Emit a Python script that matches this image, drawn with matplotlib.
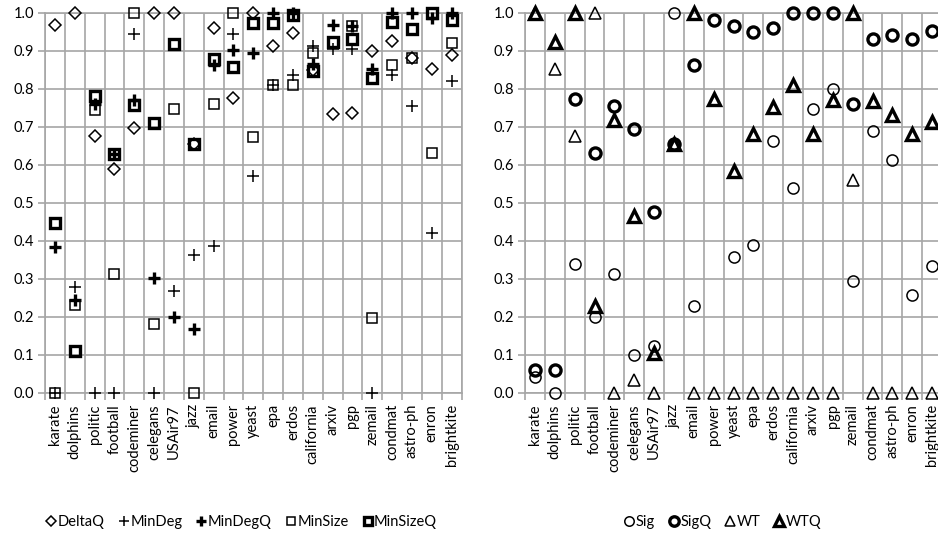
import matplotlib
matplotlib.use("Agg")
import matplotlib.pyplot as plt
import numpy as np

plt.rcParams['font.family'] = ['Lato', 'DejaVu Sans']

categories = ['karate', 'dolphins', 'politic', 'football', 'codeminer', 'celegans',
              'USAir97', 'jazz', 'email', 'power', 'yeast', 'epa', 'erdos',
              'california', 'arxiv', 'pgp', 'zemail', 'condmat', 'astro-ph',
              'enron', 'brightkite']

DeltaQ = [0.968, 1.0, 0.675, 0.588, 0.696, 1.0, 1.0, 0.656, 0.959, 0.776, 1.0,
          0.912, 0.946, 0.85, 0.733, 0.735, 0.90, 0.926, 0.882, 0.852, 0.889]
MinDeg = [0.0, 0.279, 0.0, 0.0, 0.943, 0.0, 0.268, 0.364, 0.386, 0.943, 0.57,
          0.81, 0.835, 0.913, 0.905, 0.905, 0.0, 0.836, 0.754, 0.421, 0.82]
MinDegQ = [0.384, 0.244, 0.76, 0.628, 0.77, 0.303, 0.2, 0.168, 0.862, 0.902, 0.895,
           1.0, 1.0, 0.864, 0.967, 0.966, 0.851, 1.0, 1.0, 0.985, 1.0]
MinSize = [0.0, 0.231, 0.744, 0.314, 1.0, 0.181, 0.746, 0.0, 0.759, 1.0, 0.674,
           0.81, 0.811, 0.895, 0.924, 0.966, 0.198, 0.862, 0.882, 0.632, 0.92]
MinSizeQ = [0.446, 0.11, 0.78, 0.628, 0.757, 0.709, 0.917, 0.656, 0.877, 0.858, 0.974,
            0.972, 0.993, 0.847, 0.924, 0.932, 0.829, 0.976, 0.957, 1.0, 0.982]

Sig = [0.042, 0.0, 0.338, 0.2, 0.314, 0.099, 0.123, 1.0, 0.228, 0.982, 0.358,
       0.389, 0.663, 0.539, 0.746, 0.80, 0.295, 0.689, 0.612, 0.257, 0.334]
SigQ = [0.06, 0.06, 0.772, 0.63, 0.754, 0.693, 0.476, 0.655, 0.862, 0.982, 0.966,
        0.95, 0.961, 1.0, 1.0, 1.0, 0.761, 0.93, 0.941, 0.93, 0.953]
WT = [1.0, 0.851, 0.675, 1.0, 0.0, 0.033, 0.0, 0.655, 0.0, 0.0, 0.0,
      0.0, 0.0, 0.0, 0.0, 0.0, 0.56, 0.0, 0.0, 0.0, 0.0]
WTQ = [1.0, 0.924, 1.0, 0.23, 0.719, 0.465, 0.104, 0.655, 1.0, 0.772, 0.584,
       0.68, 0.751, 0.81, 0.68, 0.77, 1.0, 0.768, 0.731, 0.681, 0.713]

yticks = [0.0, 0.1, 0.2, 0.3, 0.4, 0.5, 0.6, 0.7, 0.8, 0.9, 1.0]

fig = plt.figure(figsize=(9.38, 5.38), dpi=100)
ax1 = fig.add_axes([45 / 938, 1 - 393 / 538, 416.5 / 938, 380.3 / 538])
ax2 = fig.add_axes([525 / 938, 1 - 393 / 538, 417 / 938, 380.3 / 538])

GRID = '#a6a6a6'
x = np.arange(len(categories))

def style(ax):
    ax.set_xlim(-0.5, len(categories) - 0.5)
    ax.set_ylim(0, 1.0)
    ax.set_yticks(yticks)
    ax.set_yticklabels([f"{v:.1f}" for v in yticks], fontsize=10.5)
    ax.set_xticks(x)
    ax.set_xticklabels(categories, rotation=90, fontsize=10.5)
    ax.set_xticks(np.arange(len(categories) + 1) - 0.5, minor=True)
    ax.tick_params(axis='x', which='major', length=0, pad=8)
    ax.tick_params(axis='x', which='minor', length=5, color=GRID, width=1.2)
    ax.tick_params(axis='y', which='major', length=5, color=GRID, width=1.2, pad=3)
    ax.grid(True, which='minor', axis='x', color=GRID, linewidth=1.2)
    ax.grid(True, which='major', axis='y', color=GRID, linewidth=1.2)
    ax.set_axisbelow(True)
    for s in ax.spines.values():
        s.set_color(GRID)
        s.set_linewidth(1.2)

style(ax1)
style(ax2)

thin = 1.1
bold = 2.4

def pts(ax, vals, marker, ms, lw, label):
    ax.plot(x, vals, linestyle='none', marker=marker, markersize=ms,
            markerfacecolor='none', markeredgecolor='black', markeredgewidth=lw,
            color='black', clip_on=False, label=label, zorder=3)

pts(ax1, DeltaQ, 'D', 6.5, thin, 'DeltaQ')
pts(ax1, MinDeg, '+', 9, thin, 'MinDeg')
pts(ax1, MinDegQ, '+', 9, bold, 'MinDegQ')
pts(ax1, MinSize, 's', 7, thin, 'MinSize')
pts(ax1, MinSizeQ, 's', 7, bold, 'MinSizeQ')

pts(ax2, Sig, 'o', 8, thin, 'Sig')
pts(ax2, SigQ, 'o', 8, bold, 'SigQ')
pts(ax2, WT, '^', 8.5, thin, 'WT')
pts(ax2, WTQ, '^', 8.5, bold, 'WTQ')

h1, l1 = ax1.get_legend_handles_labels()
h2, l2 = ax2.get_legend_handles_labels()
fig.legend(h1, l1, loc='center', bbox_to_anchor=(242 / 938, 1 - 522 / 538), ncol=5,
           frameon=False, fontsize=10.5, handlelength=0.6, handletextpad=0.15,
           columnspacing=1.0, markerscale=0.85)
fig.legend(h2, l2, loc='center', bbox_to_anchor=(723 / 938, 1 - 522 / 538), ncol=4,
           frameon=False, fontsize=10.5, handlelength=0.6, handletextpad=0.15,
           columnspacing=1.0, markerscale=0.85)

fig.savefig('out.png', dpi=100)
